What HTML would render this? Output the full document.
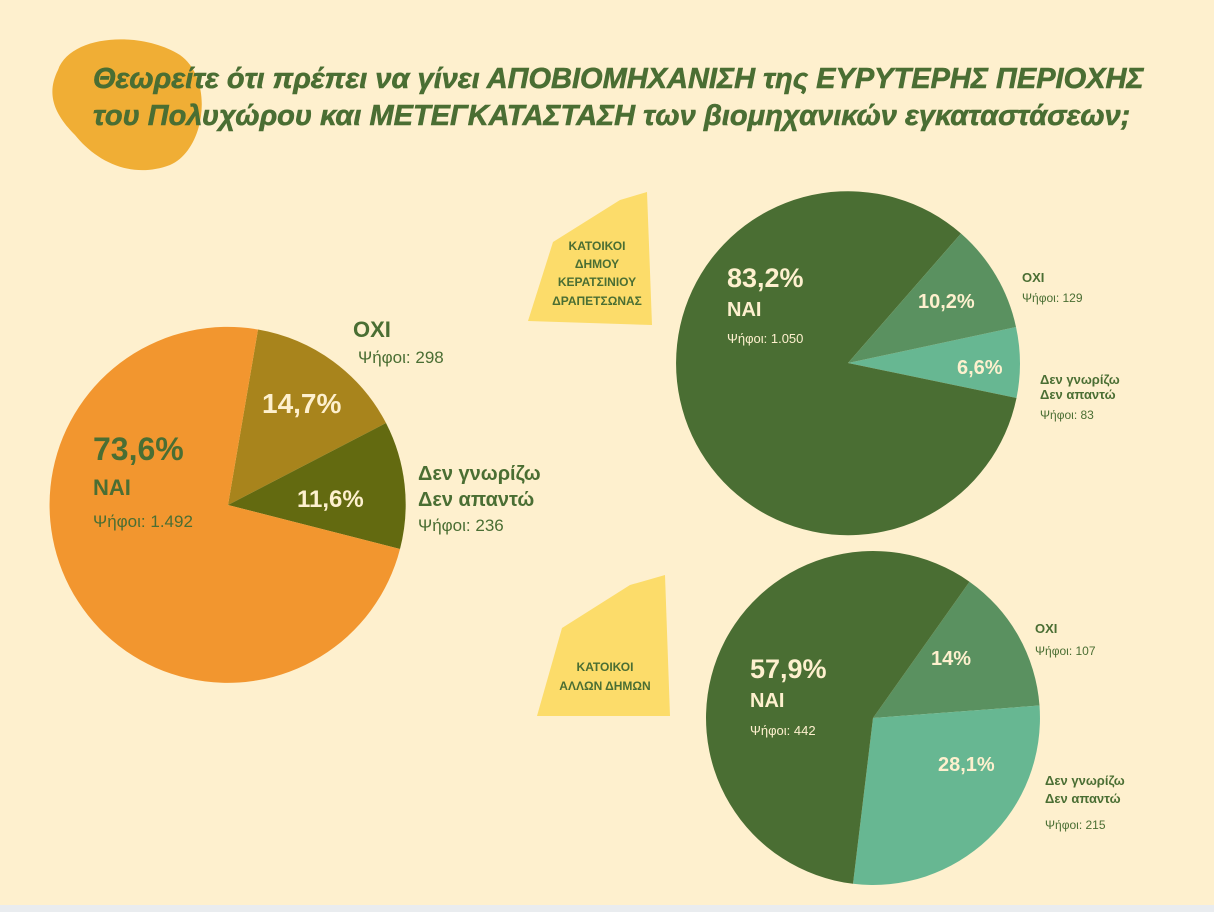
<!DOCTYPE html>
<html><head><meta charset="utf-8"><style>
html,body{margin:0;padding:0;background:#FEF0CE;}
svg{display:block;font-family:"Liberation Sans",sans-serif;}
</style></head><body>
<svg width="1214" height="912" viewBox="0 0 1214 912" xmlns="http://www.w3.org/2000/svg">
<rect width="1214" height="912" fill="#FEF0CE"/>
<rect y="905" width="1214" height="7" fill="#E9ECEF"/>
<path d="M58,70 C70,35 140,30 180,55 C215,80 205,150 170,165 C130,180 95,160 75,135 C50,110 48,90 58,70 Z" fill="#F0AE35"/>
<g font-weight="bold" font-style="italic" font-size="29" fill="#4A6E33" stroke="#4A6E33" stroke-width="0.6">
<text x="93" y="88">Θεωρείτε ότι πρέπει να γίνει ΑΠΟΒΙΟΜΗΧΑΝΙΣΗ της ΕΥΡΥΤΕΡΗΣ ΠΕΡΙΟΧΗΣ</text>
<text x="93" y="125">του Πολυχώρου και ΜΕΤΕΓΚΑΤΑΣΤΑΣΗ των βιομηχανικών εγκαταστάσεων;</text>
</g>
<!-- big pie -->
<g transform="translate(228,505)">
<path d="M0,0 L30,-175.5 A178,178 0 0 1 158,-82 Z" fill="#A8841C"/>
<path d="M0,0 L158,-82 A178,178 0 0 1 172,44 Z" fill="#636A10"/>
<path d="M0,0 L172,44 A178,178 0 1 1 30,-175.5 Z" fill="#F2962F"/>
</g>
<g fill="#4A6E33" font-weight="bold">
<text x="93" y="460" font-size="32">73,6%</text>
<text x="93" y="495" font-size="22">ΝΑΙ</text>
<text x="353" y="337" font-size="22">ΟΧΙ</text>
<text x="418" y="480" font-size="20">Δεν γνωρίζω</text>
<text x="418" y="506" font-size="20">Δεν απαντώ</text>
</g>
<g fill="#4A6E33" font-size="17">
<text x="93" y="527">Ψήφοι: 1.492</text>
<text x="358" y="363">Ψήφοι: 298</text>
<text x="418" y="531">Ψήφοι: 236</text>
</g>
<g fill="#FEF0CE" font-weight="bold">
<text x="262" y="413" font-size="28">14,7%</text>
<text x="297" y="507" font-size="24">11,6%</text>
</g>
<!-- top right pie -->
<g transform="translate(848,363)">
<path d="M0,0 L168,-36 A172,172 0 0 1 168.5,35 Z" fill="#67B792"/>
<path d="M0,0 L168.5,35 A172,172 0 1 1 113,-129.5 Z" fill="#4A6E33"/>
<path d="M0,0 L113,-129.5 A172,172 0 0 1 168,-36 Z" fill="#5A9160"/>
</g>
<!-- bottom pie -->
<g transform="translate(873,718)">
<path d="M0,0 L96.5,-136.3 A167,167 0 0 1 166.5,-12.5 Z" fill="#5A9160"/>
<path d="M0,0 L166.5,-12.5 A167,167 0 0 1 -20,165.8 Z" fill="#67B792"/>
<path d="M0,0 L-20,165.8 A167,167 0 1 1 96.5,-136.3 Z" fill="#4A6E33"/>
</g>
<g fill="#FEF0CE" font-weight="bold">
<text x="727" y="287" font-size="27">83,2%</text>
<text x="727" y="316" font-size="20">ΝΑΙ</text>
<text x="727" y="343" font-size="13" font-weight="normal">Ψήφοι: 1.050</text>
<text x="918" y="308" font-size="20">10,2%</text>
<text x="957" y="374" font-size="20">6,6%</text>
<text x="750" y="678" font-size="27">57,9%</text>
<text x="750" y="707" font-size="20">ΝΑΙ</text>
<text x="750" y="735" font-size="13" font-weight="normal">Ψήφοι: 442</text>
<text x="931" y="665" font-size="20">14%</text>
<text x="938" y="771" font-size="20">28,1%</text>
</g>
<g fill="#4A6E33" font-size="13">
<text x="1022" y="282" font-weight="bold">ΟΧΙ</text>
<text x="1022" y="302" font-size="12">Ψήφοι: 129</text>
<text x="1040" y="384" font-weight="bold">Δεν γνωρίζω</text>
<text x="1040" y="399" font-weight="bold">Δεν απαντώ</text>
<text x="1040" y="419" font-size="12">Ψήφοι: 83</text>
<text x="1035" y="633" font-weight="bold">ΟΧΙ</text>
<text x="1035" y="655" font-size="12">Ψήφοι: 107</text>
<text x="1045" y="785" font-weight="bold">Δεν γνωρίζω</text>
<text x="1045" y="803" font-weight="bold">Δεν απαντώ</text>
<text x="1045" y="829" font-size="12">Ψήφοι: 215</text>
</g>
<!-- yellow tags -->
<path d="M553,242 L620,200 L647,192 L652,325 L528,321 Z" fill="#FCDC6A"/>
<path d="M562,628 L630,585 L665,575 L670,716 L537,716 Z" fill="#FCDC6A"/>
<g fill="#4A6E33" font-weight="bold" font-size="12" text-anchor="middle">
<text x="597" y="250">ΚΑΤΟΙΚΟΙ</text>
<text x="597" y="268">ΔΗΜΟΥ</text>
<text x="597" y="286">ΚΕΡΑΤΣΙΝΙΟΥ</text>
<text x="597" y="305">ΔΡΑΠΕΤΣΩΝΑΣ</text>
<text x="605" y="671">ΚΑΤΟΙΚΟΙ</text>
<text x="605" y="690">ΑΛΛΩΝ ΔΗΜΩΝ</text>
</g>
</svg>
</body></html>
